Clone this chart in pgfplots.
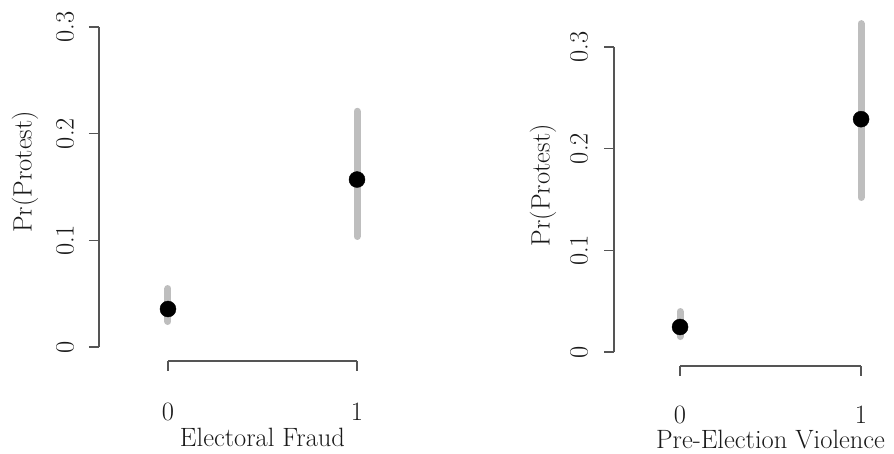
\documentclass[border=0pt]{standalone}
\usepackage{fontspec}
\usepackage{pgfplots}
\pgfplotsset{compat=1.18}
\definecolor{cigray}{RGB}{190,190,190}
\definecolor{axgray}{RGB}{85,85,85}
\definecolor{txt}{RGB}{25,25,25}
\pgfplotsset{
  base/.style={scale only axis, clip=false,
    font=\fontsize{26.5}{30}\selectfont,
    /pgf/number format/assume math mode=true,
    tick style={axgray, line width=1.1pt},
    axis line style={axgray, line width=1.1pt, -},
    major tick length=10pt, tick align=outside,
    anchor=south west},
  yside/.style 2 args={base, axis x line=none, axis y line*=left,
    ymin=0, ymax=0.3, xmin=-0.365, xmax=1.1,
    xtick=\empty,
    ytick={0,0.1,0.2,0.3}, yticklabels={0,0.1,0.2,0.3},
    yticklabel style={rotate=90, anchor=center, txt},
    yticklabel shift=#2,
    ylabel={Pr(Protest)},
    ylabel style={at={(axis description cs:#1,0.547)}, anchor=center, rotate=0, txt}},
  xside/.style 2 args={base, axis y line=none, axis x line*=bottom,
    xmin=0, xmax=1, ymin=0, ymax=1, height=1pt,
    ytick=\empty,
    xtick={0,1}, xticklabels={0,1},
    xticklabel style={anchor=center, inner sep=0pt, yshift=#1, txt},
    xlabel style={at={(axis description cs:0.5,0)}, anchor=center, inner sep=0pt, yshift=#2, txt}},
  ci/.style={cigray, line width=7pt, line cap=round},
  pt/.style={only marks, mark=*, mark size=8pt, black},
}
\begin{document}
\begin{tikzpicture}
\useasboundingbox (0,0) rectangle (894pt,454pt);
% ---------- left panel ----------
\begin{axis}[yside={-0.267}{24pt}, at={(99pt,107pt)}, width=276.9pt, height=320pt]
  \addplot[ci] coordinates {(0,0.0239) (0,0.0548)};
  \addplot[ci] coordinates {(1,0.1036) (1,0.221)};
  \addplot[pt] coordinates {(0,0.0356) (1,0.157)};
\end{axis}
\begin{axis}[xside={-41pt}{-76pt}, at={(168pt,93pt)}, width=189pt, xlabel={Electoral Fraud}]
\end{axis}
% ---------- right panel ----------
\begin{axis}[yside={-0.268}{25pt}, at={(614pt,102pt)}, width=265.2pt, height=305pt]
  \addplot[ci] coordinates {(0,0.0152) (0,0.0398)};
  \addplot[ci] coordinates {(1,0.152) (1,0.323)};
  \addplot[pt] coordinates {(0,0.0246) (1,0.229)};
\end{axis}
\begin{axis}[xside={-38.5pt}{-74pt}, at={(680pt,88pt)}, width=181pt, xlabel={Pre-Election Violence}]
\end{axis}
\end{tikzpicture}
\end{document}
